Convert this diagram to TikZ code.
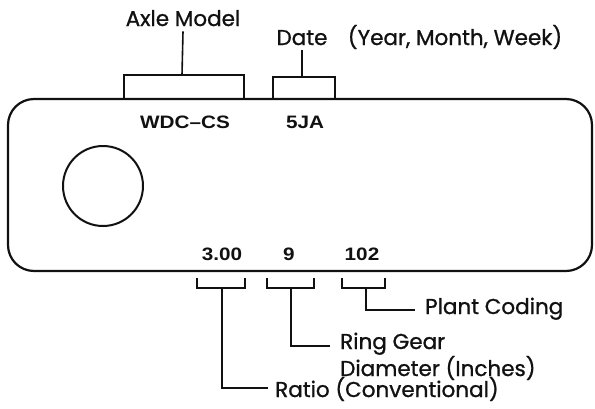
\documentclass[tikz,border=0pt]{standalone}
\usepackage{fontspec}
\setmainfont{Poppins}[FakeBold=1]
\newfontfamily\codefont[FakeStretch=1.15]{Liberation Sans}
\usetikzlibrary{positioning}
\definecolor{plateink}{HTML}{111111}
\newcommand{\plateoutline}{(8,99) rectangle (592,271)}

\begin{document}
\begin{tikzpicture}[x=1pt, y=-1pt, every node/.style={inner sep=0pt, text=plateink},
  lbl/.style={font=\fontsize{21.5}{24}\selectfont},
  code/.style={font=\codefont\bfseries\fontsize{18}{21}\selectfont},
  bracket/.style={plateink, line width=1.6pt}]

  \useasboundingbox (0,0) rectangle (595,408);

  % the tag
  \draw[plateink, line width=2.2pt, rounded corners=26pt] \plateoutline;
  \draw[plateink, line width=2pt] (103,186) circle (40);

  % stamped codes
  \node[code, anchor=base] (axlecode) at (185,128) {WDC–CS};
  \node[code, anchor=base] (datecode) at (305,128) {5JA};
  \node[code, anchor=base] (ratiocode) at (222,260) {3.00};
  \node[code, anchor=base] (gearcode) at (289,260) {9};
  \node[code, anchor=base] (plantcode) at (362,260) {102};

  % labels
  \node[lbl, anchor=base] (axle) at (183,26) {Axle Model};
  \node[lbl, anchor=base] (date) at (302,45) {Date};
  \node[lbl, base right=20pt of date] (dateinfo) {(Year, Month, Week)};
  \node[lbl, anchor=base west] (plant) at (425,314) {Plant Coding};
  \node[lbl, anchor=base west] (ringgear) at (340,349) {Ring Gear};
  \node[lbl, anchor=base west] (diameter) at (340,376) {Diameter (Inches)};
  \node[lbl, anchor=base west] (ratio) at (275,397) {Ratio (Conventional)};

  \coordinate (plantend) at (415,310);
  \coordinate (gearend) at (330,346);
  \coordinate (ratioend) at (268,388);

  % brackets on top
  \draw[bracket] (124,98) |- (244,75) -- (244,98);
  \draw[bracket] (182,75) -- ([yshift=-5pt]axle.south);
  \draw[bracket] (273,98) |- (335,77) -- (335,98);
  \draw[bracket] (302,77) -- ([yshift=-5pt]date.south);

  % brackets underneath
  \draw[bracket] (197,278) |- (245,288) -- (245,278);
  \draw[bracket] (222,288) |- (ratioend);
  \draw[bracket] (267,278) |- (314,288) -- (314,278);
  \draw[bracket] (291,288) |- (gearend);
  \draw[bracket] (342,278) |- (385,288) -- (385,278);
  \draw[bracket] (366,288) |- (plantend);

\end{tikzpicture}
\end{document}
